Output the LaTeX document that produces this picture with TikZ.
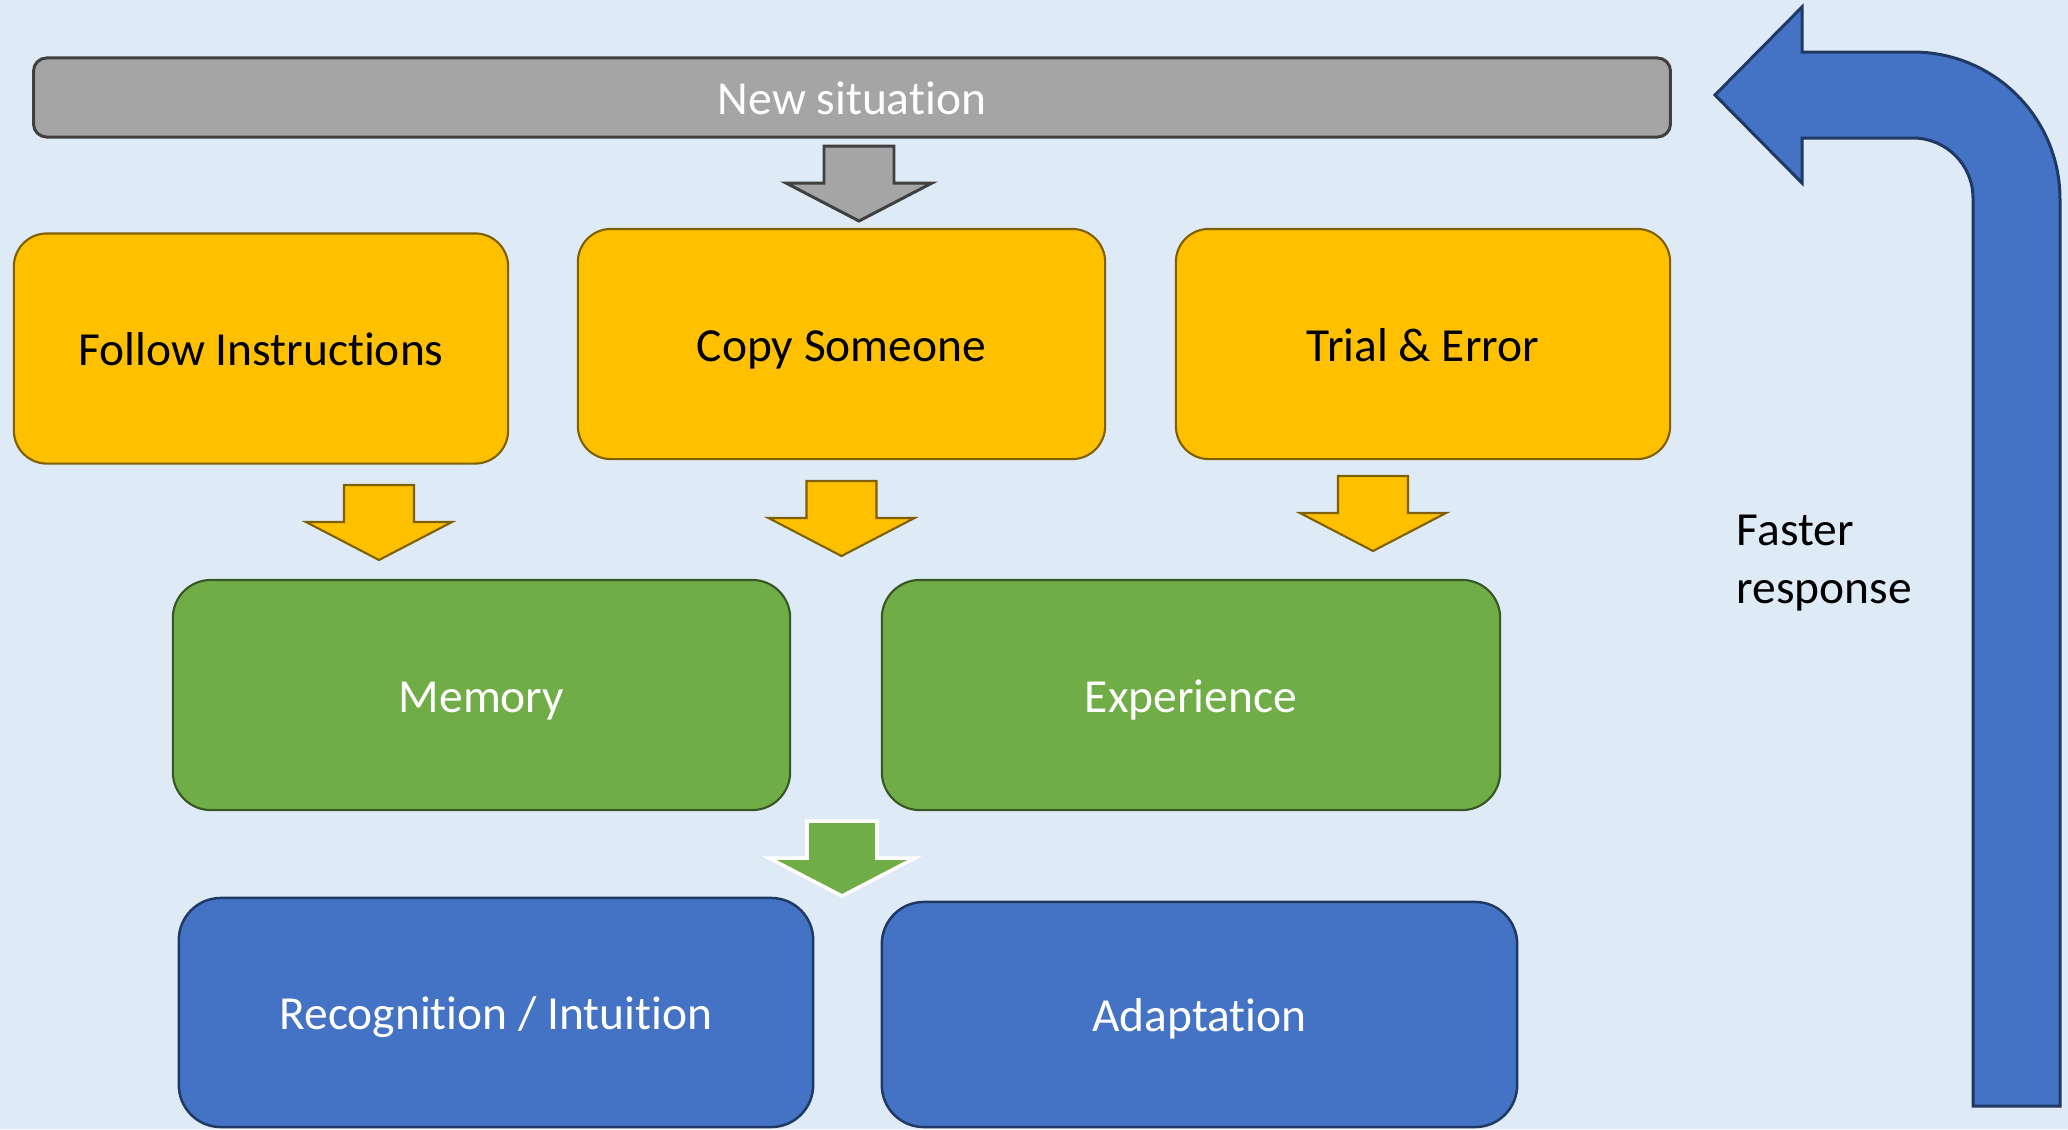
\documentclass[tikz,border=0pt]{standalone}
\usepackage{fontspec}
\setmainfont[Ligatures=NoCommon]{Carlito}
\definecolor{bgblue}{HTML}{DEEBF7}
\definecolor{barfill}{HTML}{A5A5A5}
\definecolor{baredge}{HTML}{404040}
\definecolor{boxyellow}{HTML}{FFC000}
\definecolor{edgeyellow}{HTML}{7F6000}
\definecolor{boxgreen}{HTML}{70AD47}
\definecolor{edgegreen}{HTML}{375623}
\definecolor{boxblue}{HTML}{4472C4}
\definecolor{edgeblue}{HTML}{1F3864}
\begin{document}
\begin{tikzpicture}[x=0.01cm, y=-0.01cm,
    every node/.style={font=\fontsize{13.5}{16.5}\selectfont},
    box/.style={rectangle, rounded corners=0.33cm, line width=0.6pt,
      minimum height=2.3cm, inner sep=0pt, text height=9.8pt, text depth=0pt},
    yellowbox/.style={box, fill=boxyellow, draw=edgeyellow, text=black},
    greenbox/.style={box, fill=boxgreen, draw=edgegreen, text=white,
      rounded corners=0.38cm},
    bluebox/.style={box, fill=boxblue, draw=edgeblue, text=white,
      rounded corners=0.42cm, line width=0.7pt},
    blockdown/.pic={
      \path[pic actions] (-35,0) -- (35,0) -- (35,37) -- (73,37)
        -- (0,75) -- (-73,37) -- (-35,37) -- cycle;}]
  % background
  \fill[bgblue] (0,0) rectangle (2068,1129);
  \useasboundingbox (0,0) rectangle (2068,1129);

  % top bar
  \node[rectangle, rounded corners=0.13cm, fill=barfill, draw=baredge,
    line width=0.85pt, minimum width=16.36cm, minimum height=0.79cm,
    text height=9.8pt, text depth=0pt, text=white] (newsit) at (852,97.5) {New situation};
  \pic[fill=barfill, draw=baredge, line width=0.85pt] at (859,146) {blockdown};

  % ways to learn
  \node[yellowbox, minimum width=4.94cm] (follow) at (261,348.5) {Follow Instructions};
  \node[yellowbox, minimum width=5.27cm] (copy) at (841.5,344) {Copy Someone};
  \node[yellowbox, minimum width=4.94cm] (trial) at (1423,344) {Trial \& Error};
  \begin{scope}[line width=0.6pt]
    \pic[fill=boxyellow, draw=edgeyellow] at (379,485) {blockdown};
    \pic[fill=boxyellow, draw=edgeyellow] at (841.5,481) {blockdown};
    \pic[fill=boxyellow, draw=edgeyellow] at (1373,476) {blockdown};
  \end{scope}

  % what is stored
  \node[greenbox, minimum width=6.17cm] (memory) at (481.5,695) {Memory};
  \node[greenbox, minimum width=6.18cm] (experience) at (1191,695) {Experience};
  \pic[fill=boxgreen, draw=white, line width=1pt] at (842,821) {blockdown};

  % response
  \node[bluebox, minimum width=6.34cm, minimum height=2.29cm] (recognition) at (496,1012.5) {Recognition / Intuition};
  \node[bluebox, minimum width=6.35cm, minimum height=2.25cm] (adaptation) at (1199.5,1014.5) {Adaptation};

  % feedback arrow
  \draw[fill=boxblue, draw=edgeblue, line width=0.85pt]
    (1715,95) -- (1802,7) -- (1802,52) -- (1913,52)
    arc[start angle=-90, end angle=0, radius=147]
    -- (2060,1106) -- (1973,1106) -- (1973,198)
    arc[start angle=0, end angle=-90, radius=60]
    -- (1802,138) -- (1802,183) -- cycle;
  \node[anchor=west, align=left, inner sep=0pt] (faster) at (1736,563) {Faster\\response};
\end{tikzpicture}
\end{document}
